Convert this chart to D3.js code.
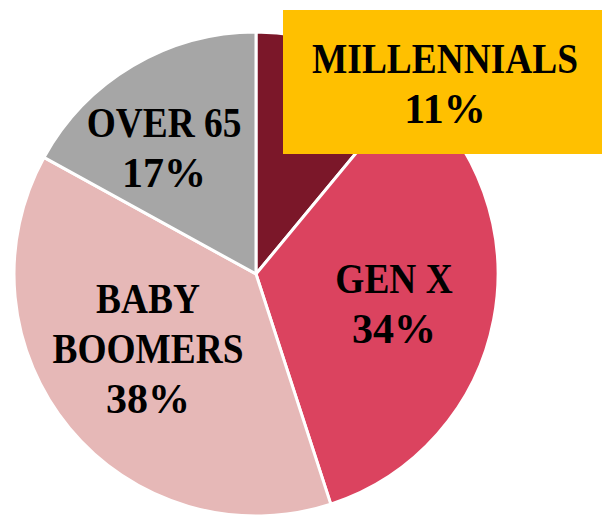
<!DOCTYPE html>
<html>
<head>
<meta charset="utf-8">
<style>
  body { margin: 0; background: #fff; }
  svg { display: block; }
  text { font-family: "Liberation Serif", serif; font-weight: bold; fill: #000; }
</style>
</head>
<body>
<svg width="602" height="517"></svg>
<script src="https://cdn.jsdelivr.net/npm/d3@7"></script>
<script>

// slice data, clockwise from 12 o'clock
var groups = ["MILLENNIALS", "GEN X", "BABY BOOMERS", "OVER 65"];
var shares = [11, 34, 38, 17];
var colors = ["#7B1729", "#DB435F", "#E6B8B7", "#A6A6A6"];

// label lines for each slice
var labelLines = [
  ["MILLENNIALS", "11%"],
  ["GEN X", "34%"],
  ["BABY", "BOOMERS", "38%"],
  ["OVER 65", "17%"]
];
// label centres (first baseline)
var labelPos = [[445, 73], [394, 293], [148, 313], [164, 137]];

var svg = d3.select("svg");
var cx = 256, cy = 274, radius = 242;

var pie = d3.pie().sort(null).value(d => d.value);
var arc = d3.arc().innerRadius(0).outerRadius(radius);

var data = groups.map((g, i) => ({ name: g, value: shares[i], color: colors[i] }));

var g = svg.append("g").attr("transform", "translate(" + cx + "," + cy + ")");

g.selectAll("path")
  .data(pie(data))
  .enter().append("path")
    .attr("d", arc)
    .attr("fill", d => d.data.color)
    .attr("stroke", "#fff")
    .attr("stroke-width", 3)
    .attr("stroke-linejoin", "round");

// yellow callout box for the small slice
svg.append("rect")
  .attr("x", 283).attr("y", 10)
  .attr("width", 330).attr("height", 144)
  .attr("fill", "#FFC000");

// Cambria-ish look: letters a bit narrower than Liberation Serif, digits as is
labelLines.forEach(function(lines, i) {
  lines.forEach(function(s, j) {
    var sx = /%$/.test(s) ? 1 : 0.89;
    svg.append("g")
      .attr("transform", "translate(" + labelPos[i][0] + "," + (labelPos[i][1] + j * 50) + ") scale(" + sx + ",1)")
      .append("text")
      .attr("text-anchor", "middle")
      .style("font-size", "42px")
      .text(s);
  });
});

</script>
</body>
</html>
